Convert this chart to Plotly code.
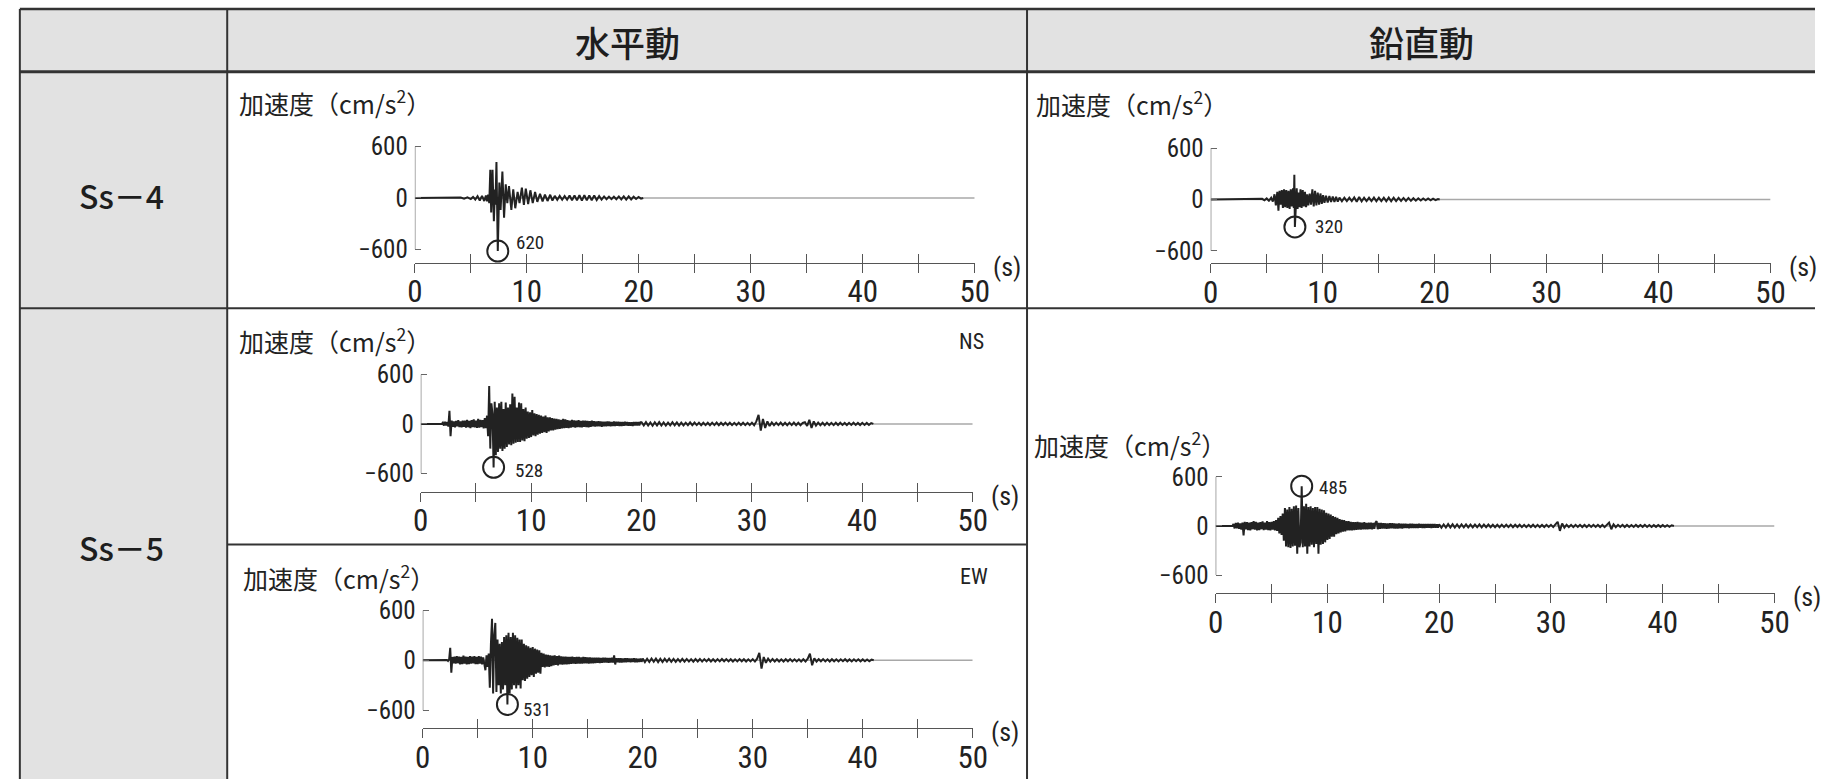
import plotly.graph_objects as go

# ---------------- data ----------------
HEADERS = ["水平動", "鉛直動"]
ROW_LABELS = ["Ss－4", "Ss－5"]
COMPONENT_TAGS = ["NS", "EW"]
Y_TITLE = "加速度（cm/s<sup>2</sup>）"
X_UNIT = "(s)"
X_MAJOR = [0, 10, 20, 30, 40, 50]
X_MAJOR_TEXT = ["0", "10", "20", "30", "40", "50"]
X_MINOR = [5, 15, 25, 35, 45]
Y_TICKS = [-600, 0, 600]
Y_TICK_TEXT = ["−600", "0", "600"]
X_MAX = 50
Y_LIM = 600

# Ss-4 horizontal (extrema read from the record)
SS4_H_T = [0, 3.8, 4.1, 4.4, 4.7, 5.0, 5.2, 5.4, 5.6, 5.8, 6.0, 6.2, 6.35, 6.45, 6.55, 6.65,
           6.74, 6.82, 6.94, 7.06, 7.16, 7.2, 7.29, 7.41, 7.55, 7.66, 7.82, 7.97, 8.12, 8.26,
           8.41, 8.62, 8.79, 8.97, 9.18, 9.35, 9.56, 9.74, 9.91, 10.12, 10.32, 10.53, 10.74,
           10.94, 11.18, 11.41, 11.62, 11.85, 12.09, 12.29, 12.5, 12.72, 12.94, 13.16, 13.38,
           13.6, 13.82, 14.04, 14.26, 14.48, 14.7, 14.92, 15.14, 15.36, 15.58, 15.8, 16.02,
           16.24, 16.46, 16.68, 16.9, 17.12, 17.34, 17.56, 17.78, 18.0, 18.22, 18.44, 18.66,
           18.88, 19.1, 19.32, 19.54, 19.76, 19.98, 20.2, 20.4]
SS4_H_A = [0, 0, 6, -8, 8, -12, 12, -18, 20, -30, 25, -35, 30, -40, 40, -60,
           330, -170, 330, -270, 100, -80, 420, -620, 180, -140, 310, -230, 160, -60,
           140, -140, 100, -120, 70, -60, 120, -80, 110, -70, 90, -60, 70,
           -45, 50, -40, 40, -35, 38, -30, 25, -22, 24, -20, 22,
           -20, 28, -26, 30, -28, 32, -30, 32, -28, 30, -26, 28,
           -24, 22, -18, 18, -15, 16, -14, 15, -14, 18, -16, 20,
           -18, 20, -16, 15, -12, 12, -8, 0]

# Ss-4 vertical
SS4_V_T = [0, 4.4, 4.6, 4.8, 5.0, 5.2, 5.4, 5.55, 5.7, 5.82, 5.95, 6.05, 6.15, 6.25, 6.35,
           6.45, 6.55, 6.65, 6.75, 6.85, 6.95, 7.05, 7.15, 7.25, 7.35, 7.42, 7.47, 7.52, 7.6,
           7.68, 7.76, 7.85, 7.93, 8.02, 8.12, 8.22, 8.32, 8.42, 8.52, 8.62, 8.72, 8.84, 8.96,
           9.08, 9.2, 9.32, 9.44, 9.56, 9.68, 9.8, 9.92, 10.04, 10.16, 10.3, 10.45, 10.6,
           10.75, 10.9, 11.05, 11.2, 11.35, 11.5, 11.72, 11.94, 12.16, 12.38, 12.6, 12.82,
           13.04, 13.26, 13.48, 13.7, 13.92, 14.14, 14.36, 14.58, 14.8, 15.02, 15.24, 15.46,
           15.68, 15.9, 16.12, 16.34, 16.56, 16.78, 17.0, 17.22, 17.44, 17.66, 17.88, 18.1,
           18.32, 18.54, 18.76, 18.98, 19.2, 19.42, 19.64, 19.86, 20.08, 20.3, 20.45]
SS4_V_A = [0, 0, 8, -10, 12, -15, 20, -25, 60, -70, 90, -130, 100, -60, 110,
           -100, 120, -90, 110, -100, 100, -110, 120, -80, 130, -100, 290, -320, -60,
           130, -110, 80, -90, 120, -100, 110, -80, 90, -90, 60, -70, 70, -60,
           120, -80, 100, -70, 80, -60, 70, -50, 50, -40, 45, -35, 40,
           -30, 35, -28, 30, -25, 22, -20, 20, -18, 20, -18, 25,
           -26, 28, -22, 20, -18, 20, -18, 22, -20, 20, -18, 20,
           -20, 22, -20, 20, -18, 18, -16, 18, -16, 18, -16, 15,
           -14, 14, -12, 12, -10, 12, -10, 10, -8, 5, 0]

# Ss-5 records: digitised samples (quiet lead-in, then 0.1 s samples, then 0.2 s samples)
SS5_DT_FINE = 0.1
SS5_DT_COARSE = 0.2
SS5_COARSE_START = 20.0

SS5_NS_LEAD_T = [0.0, 1.9]
SS5_NS_LEAD_A = [0, 0]
SS5_NS_FINE_START = 2.0
SS5_NS_FINE = [
    15, -20, 25, -18, 22, -30, 160, -150, 40, -35,
    30, -40, 35, -30, 45, -38, 30, -42, 40, -35,
    38, -45, 50, -40, 35, -50, 45, -38, 55, -42,
    40, -48, 60, -45, 50, -40, 45, -55, 70, -50,
    100, -150, 460, -300, 250, 120, -528, 270, -380, 200,
    -340, 250, -300, 270, -330, 180, -300, 260, -280, 200,
    -250, 240, -260, 370, -240, 330, -230, 200, -220, 260,
    -220, 250, -200, 180, -210, 200, -180, 150, -170, 140,
    -160, 170, -140, 130, -150, 120, -130, 110, -120, 100,
    -110, 90, -100, 100, -110, 80, -90, 80, -80, 70,
    -80, 65, -70, 60, -65, 55, -60, 50, -55, 60,
    -50, 55, -48, 45, -50, 40, -45, 48, -40, 42,
    -45, 40, -38, 45, -40, 35, -42, 38, -35, 40,
    -38, 35, -40, 32, -35, 38, -30, 34, -32, 30,
    -30, 32, -28, 30, -34, 28, -30, 26, -28, 30,
    -26, 28, -30, 24, -26, 28, -24, 26, -22, 25,
    -24, 22, -26, 24, -22, 25, -20, 24, -22, 20,
    -22, 20, -24, 22, -20, 24, -20, 22, -18, 20,
]
SS5_NS_COARSE = [
    20, -18, 22, -20, 18, -22, 20, -18, 22, -20,
    18, -20, 16, -18, 20, -16, 18, -20, 16, -18,
    15, -16, 18, -15, 16, -14, 15, -16, 14, -15,
    14, -16, 15, -14, 16, -15, 14, -13, 15, -14,
    14, -15, 13, -14, 15, -13, 14, -15, 13, -14,
    15, -16, 30, 110, -80, 60, -50, 30, -25, 18,
    -16, 15, -14, 16, -15, 14, -16, 15, -14, 16,
    -15, 14, -16, 12, 20, -25, 50, -50, 30, -20,
    16, -15, 14, -16, 15, -14, 13, -15, 14, -13,
    14, -13, 12, -14, 13, -12, 14, -13, 12, -14,
    13, -12, 12, -13, 10, 0,
]

SS5_EW_LEAD_T = [0.0, 1.9]
SS5_EW_LEAD_A = [0, 0]
SS5_EW_FINE_START = 2.0
SS5_EW_FINE = [
    0, 0, 5, -8, 10, 150, -150, 40, -35, 45,
    -40, 50, -35, 45, -50, 40, -45, 55, -40, 45,
    -50, 40, -45, 50, -40, 45, -38, 50, -45, 40,
    -45, 50, -40, 45, -50, 35, -40, -120, 60, -80,
    80, -330, 200, 500, -400, 300, 450, -380, 250, -300,
    200, -400, 220, -350, 280, -300, 300, -531, 330, -400,
    280, -350, 330, -300, 300, -340, 270, -300, 250, -340,
    250, -240, 200, -250, 180, -220, 170, -200, 150, -180,
    160, -200, 140, -160, 130, -150, 120, -160, 90, -80,
    80, -85, 70, -75, 65, -80, 60, -70, 55, -60,
    60, -55, 50, -60, 55, -50, 48, -52, 45, -50,
    45, -48, 42, -45, 40, -42, 45, -40, 38, -42,
    40, -38, 42, -40, 36, -38, 40, -35, 38, -36,
    35, -38, 34, -36, 32, -35, 30, -34, 32, -30,
    30, -32, 28, -30, 32, -28, 30, -26, 28, -30,
    28, -26, 30, -28, 60, -50, 26, -24, 25, -26,
    24, -25, 22, -24, 25, -22, 24, -20, 22, -24,
    22, -20, 24, -22, 20, -22, 18, -20, 22, -18,
]
SS5_EW_COARSE = [
    20, -22, 18, -20, 22, -18, 20, -22, 18, -20,
    18, -16, 20, -18, 16, -18, 15, -17, 18, -16,
    16, -15, 14, -16, 15, -14, 16, -15, 14, -13,
    15, -14, 13, -15, 14, -13, 15, -12, 14, -13,
    13, -14, 12, -13, 14, -12, 13, -14, 12, -13,
    14, -15, 20, 90, -100, 40, -30, 20, -15, 16,
    -14, 13, -15, 12, -14, 13, -12, 14, -13, 12,
    -13, 12, -14, 13, -15, 20, 80, -60, 25, -15,
    13, -12, 14, -13, 12, -14, 13, -12, 12, -13,
    12, -11, 13, -12, 11, -13, 12, -11, 12, -12,
    11, -12, 10, -11, 8, 0,
]

SS5_UD_LEAD_T = [0.0]
SS5_UD_LEAD_A = [0]
SS5_UD_FINE_START = 1.5
SS5_UD_FINE = [
    0, 25, -30, 35, -28,
    40, -35, 30, -45, 40, -115, 50, -40, 45, -50,
    40, -55, 45, -40, 60, -45, 50, -55, 40, -50,
    45, -40, 55, -50, 40, -45, 60, -50, 45, -55,
    50, -45, 60, -55, 70, -60, 100, -90, 120, -110,
    150, -180, 220, -250, 200, -260, 230, -270, 210, -250,
    240, -240, 250, -340, 220, -260, -200, 485, -260, 240,
    -250, 270, -340, 230, -250, 240, -230, 220, -260, 230,
    -220, 230, -340, 210, -230, 200, -220, 190, -200, 160,
    -170, 150, -160, 140, -130, 120, -130, 110, -100, 100,
    -90, 85, -80, 75, -70, 70, -65, 60, -55, 60,
    -55, 50, -55, 48, -50, 45, -48, 50, -45, 42,
    -45, 40, -42, 45, -40, 38, -42, 40, -38, 40,
    -40, 38, -35, 40, 60, -40, 36, -35, 38, -32,
    35, -33, 32, -34, 30, -32, 33, -30, 32, -30,
    30, -32, 28, -30, 30, -28, 27, -30, 28, -26,
    28, -26, 25, -28, 26, -24, 27, -25, 24, -26,
    25, -24, 26, -23, 24, -25, 22, -24, 23, -22,
    24, -22, 23, -24, 22, -21, 23, -22, 20, -22,
]
SS5_UD_COARSE = [
    20, -22, 18, -20, 22, -18, 20, -19, 18, -20,
    18, -17, 19, -18, 16, -18, 17, -16, 18, -17,
    16, -15, 17, -16, 15, -16, 14, -15, 16, -14,
    15, -14, 16, -15, 14, -13, 15, -14, 13, -14,
    14, -13, 15, -14, 13, -14, 12, -13, 14, -12,
    13, -14, 20, 50, -60, 30, -20, 15, -14, 13,
    -14, 13, -12, 14, -13, 12, -14, 13, -12, 13,
    -12, 14, -13, 12, -15, 18, 40, -40, 20, -15,
    13, -12, 14, -13, 12, -13, 11, -12, 13, -11,
    12, -11, 13, -12, 11, -12, 10, -11, 12, -11,
    10, -11, 9, -10, 8, 0,
]

# maximum accelerations (cm/s2) and when they occur (s)
PEAK_T = [7.41, 7.52, 6.6, 7.7, 7.7]
PEAK_A = [-620, -320, -528, -531, 485]
PEAK_LABEL = ["620", "320", "528", "531", "485"]


# ---------------- build ----------------
def sampled(lead_t, lead_a, fine_start, fine, coarse):
    t, a = list(lead_t), list(lead_a)
    for i, v in enumerate(fine):
        t.append(round(fine_start + i * SS5_DT_FINE, 3))
        a.append(v)
    for i, v in enumerate(coarse):
        t.append(round(SS5_COARSE_START + i * SS5_DT_COARSE, 3))
        a.append(v)
    return t, a


RECORDS = [
    (SS4_H_T, SS4_H_A),
    (SS4_V_T, SS4_V_A),
    sampled(SS5_NS_LEAD_T, SS5_NS_LEAD_A, SS5_NS_FINE_START, SS5_NS_FINE, SS5_NS_COARSE),
    sampled(SS5_EW_LEAD_T, SS5_EW_LEAD_A, SS5_EW_FINE_START, SS5_EW_FINE, SS5_EW_COARSE),
    sampled(SS5_UD_LEAD_T, SS5_UD_LEAD_A, SS5_UD_FINE_START, SS5_UD_FINE, SS5_UD_COARSE),
]

W, H = 1830, 781


def fx(p):
    return p / W


def fy(p):
    return 1 - p / H


NARROW = "'Liberation Sans Narrow', 'Arial Narrow', 'Roboto Condensed', 'DejaVu Sans Condensed', 'Liberation Sans', sans-serif"
CJK = "'Noto Sans CJK JP', 'Noto Sans CJK SC', sans-serif"
INK = "#222222"
RULE = "#333333"
CELL = "#e2e2e2"

# pixel layout of each panel: t=0 and t=50 x-positions, zero line y, px per 600, x-axis y
PANELS = [
    dict(x0=412, x50=979, yz=198.5, h600=51.5, yax=263.5, title=(232, 102), tag=None, lab=(32, 9)),
    dict(x0=1218, x50=1785, yz=200, h600=51.5, yax=264, title=(1039, 103), tag=None, lab=(34, 0)),
    dict(x0=418, x50=977, yz=425, h600=49.5, yax=493, title=(232, 341), tag=(976, 342), lab=(35, -3)),
    dict(x0=420, x50=977, yz=662, h600=50, yax=730, title=(236, 578), tag=(978, 578), lab=(30, -5)),
    dict(x0=1223, x50=1789, yz=527.3, h600=49.3, yax=595, title=(1037, 445), tag=None, lab=(31, -1)),
]
TAG_TEXT = [None, None, COMPONENT_TAGS[0], COMPONENT_TAGS[1], None]

fig = go.Figure()
layout = dict(
    width=W, height=H, margin=dict(l=0, r=0, t=0, b=0),
    paper_bgcolor="white", plot_bgcolor="rgba(0,0,0,0)", showlegend=False,
)
shapes = []
annotations = []

# table cells and rules
shapes += [
    dict(type="rect", xref="paper", yref="paper", x0=fx(12), x1=fx(1830), y0=fy(72), y1=fy(9),
         fillcolor=CELL, line=dict(width=0), layer="below"),
    dict(type="rect", xref="paper", yref="paper", x0=fx(12), x1=fx(222), y0=fy(781), y1=fy(72),
         fillcolor=CELL, line=dict(width=0), layer="below"),
]
for (xa, ya, xb, yb, w) in [
    (12, 9, 1830, 9, 2.5), (12, 72, 1830, 72, 3), (12, 9, 12, 781, 2),
    (222, 9, 222, 781, 2), (1032, 9, 1032, 781, 2), (12, 309, 1830, 309, 2),
    (222, 546, 1032, 546, 2),
]:
    shapes.append(dict(type="line", xref="paper", yref="paper", x0=fx(xa), y0=fy(ya),
                       x1=fx(xb), y1=fy(yb), line=dict(color=RULE, width=w), layer="below"))

for txt, cx in zip(HEADERS, [627, 1431]):
    annotations.append(dict(text=txt, xref="paper", yref="paper", x=fx(cx), y=fy(42),
                            showarrow=False, xanchor="center", yanchor="middle",
                            font=dict(family=CJK, size=35, color="#1e1e1e", weight=500)))
for txt, cy in zip(ROW_LABELS, [196, 548]):
    annotations.append(dict(text=txt, xref="paper", yref="paper", x=fx(115), y=fy(cy),
                            showarrow=False, xanchor="center", yanchor="middle",
                            font=dict(family=CJK, size=32, color="#1e1e1e", weight=500)))

for i, (p, (t, a)) in enumerate(zip(PANELS, RECORDS), start=1):
    xa = "x" if i == 1 else f"x{i}"
    ya = "y" if i == 1 else f"y{i}"
    xo = f"x{i + 5}"
    k = p["h600"] / Y_LIM
    top_px = p["yz"] - 78
    up_ticks = dict(ticks="inside", ticklen=9, tickwidth=1.4, tickcolor="#555")
    down_ticks = dict(ticks="outside", ticklen=9, tickwidth=1.4, tickcolor="#555")
    fig.add_trace(go.Scatter(x=t, y=a, mode="lines", xaxis=xa, yaxis=ya,
                             line=dict(color=INK, width=2), hoverinfo="skip"))
    fig.add_trace(go.Scatter(x=[PEAK_T[i - 1]], y=[PEAK_A[i - 1]], mode="markers", xaxis=xo, yaxis=ya,
                             cliponaxis=False, hoverinfo="skip",
                             marker=dict(symbol="circle-open", size=21, color=INK,
                                         line=dict(width=2, color=INK))))
    # labelled time axis: ticks pointing up, labels below
    layout[f"xaxis{i}"] = dict(
        domain=[fx(p["x0"]), fx(p["x50"])], range=[0, X_MAX], anchor=ya,
        tickmode="array", tickvals=X_MAJOR, ticktext=X_MAJOR_TEXT, **up_ticks,
        minor=dict(tickmode="array", tickvals=X_MINOR, **up_ticks),
        showline=True, linecolor="#555", linewidth=1.4, showgrid=False, zeroline=False,
        tickfont=dict(family=NARROW, size=31, color=INK), ticklabelstandoff=1, fixedrange=True)
    # companion axis on the same line: ticks pointing down
    layout[f"xaxis{i + 5}"] = dict(
        overlaying=xa, side="bottom", anchor="free", position=fy(p["yax"]), range=[0, X_MAX],
        tickmode="array", tickvals=X_MAJOR, **down_ticks,
        minor=dict(tickmode="array", tickvals=X_MINOR, **down_ticks),
        showticklabels=False, showline=False, showgrid=False, zeroline=False, fixedrange=True)
    layout[f"yaxis{i}"] = dict(
        domain=[fy(p["yax"]), fy(top_px)],
        range=[-(p["yax"] - p["yz"]) / k, (p["yz"] - top_px) / k], anchor=xa,
        tickmode="array", tickvals=Y_TICKS, ticktext=Y_TICK_TEXT,
        ticks="inside", ticklen=6, tickwidth=1.3, tickcolor="#666",
        showline=False, showgrid=False, zeroline=False, fixedrange=True,
        tickfont=dict(family=NARROW, size=25, color=INK), ticklabelstandoff=6)
    shapes.append(dict(type="line", xref=xa, yref=ya, x0=0, x1=0, y0=-Y_LIM, y1=Y_LIM,
                       line=dict(color="#777", width=1.3)))
    shapes.append(dict(type="line", xref=xa, yref=ya, x0=0, x1=X_MAX, y0=0, y1=0,
                       line=dict(color="#a8a8a8", width=1.5), layer="below"))
    tx, ty = p["title"]
    annotations.append(dict(text=Y_TITLE, xref="paper", yref="paper", x=fx(tx), y=fy(ty),
                            xanchor="left", yanchor="middle", showarrow=False,
                            font=dict(family=CJK, size=25, color=INK)))
    if TAG_TEXT[i - 1]:
        gx, gy = p["tag"]
        annotations.append(dict(text=TAG_TEXT[i - 1], xref="paper", yref="paper", x=fx(gx), y=fy(gy),
                                xanchor="center", yanchor="middle", showarrow=False,
                                font=dict(family=NARROW, size=22, color=INK)))
    annotations.append(dict(text=X_UNIT, xref=xa, yref="paper", x=X_MAX, y=fy(p["yax"]),
                            xshift=32, yshift=-4, xanchor="center", yanchor="middle",
                            showarrow=False, font=dict(family=NARROW, size=26, color=INK)))
    dx, dy = p["lab"]
    annotations.append(dict(text=PEAK_LABEL[i - 1], xref=xa, yref=ya, x=PEAK_T[i - 1], y=PEAK_A[i - 1],
                            xshift=dx, yshift=dy, xanchor="center", yanchor="middle",
                            showarrow=False, font=dict(family=NARROW, size=19, color=INK)))

layout["shapes"] = shapes
layout["annotations"] = annotations
fig.update_layout(**layout)

fig.write_html("out.html", config={"displayModeBar": False},
               post_script="document.body.style.margin='0';document.body.style.overflow='hidden';")
